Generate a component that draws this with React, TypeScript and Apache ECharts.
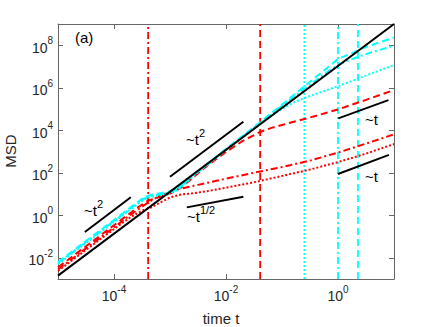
import { useEffect, useRef } from "react";
import * as echarts from "echarts";

// All values are log10 exponents: t = 10^x, MSD = 10^y
const X_MIN = -5;
const X_MAX = 1;
const Y_MIN = -3;
const Y_MAX = 9;
const xTickExps = [-4, -2, 0];
const yTickExps = [-2, 0, 2, 4, 6, 8];

// cyan curves
const cyanDashedT = [-5, -4.5, -4, -3.7, -3.5, -3.4, -3.3, -3.15, -3.0, -2.85, -2.7, -2.6, -2.3, -2, -1.5, -1, -0.5, 0, 0.5, 1];
const cyanDashedY = [-2.2, -1.21, -0.22, 0.38, 0.77, 0.91, 0.98, 1.05, 1.13, 1.3, 1.64, 1.9, 2.47, 3.12, 4.15, 5.2, 6.28, 7.35, 7.92, 8.37];
const cyanDashDotT = [-5, -4.5, -4, -3.7, -3.5, -3.4, -3.3, -3.15, -3.0, -2.85, -2.7, -2.6, -2.3, -2, -1.5, -1, -0.5, -0.2, 0, 0.3, 0.6, 1];
const cyanDashDotY = [-2.25, -1.26, -0.27, 0.33, 0.72, 0.86, 0.93, 1.0, 1.08, 1.25, 1.6, 1.86, 2.45, 3.1, 4.12, 5.15, 6.15, 6.72, 7.08, 7.4, 7.67, 7.98];
const cyanDottedT = [-5, -4.5, -4, -3.7, -3.5, -3.4, -3.3, -3.15, -3.0, -2.85, -2.7, -2.6, -2.3, -2, -1.5, -1.2, -1, -0.8, -0.6, -0.3, 0, 0.5, 1];
const cyanDottedY = [-2.3, -1.31, -0.32, 0.28, 0.67, 0.81, 0.88, 0.95, 1.03, 1.2, 1.56, 1.82, 2.43, 3.07, 4.08, 4.66, 5.0, 5.3, 5.52, 5.8, 6.07, 6.57, 7.07];

// red curves
const redDashedT = [-5, -4.5, -4, -3.6, -3.4, -3.2, -3.0, -2.8, -2.6, -2.35, -2.0, -1.7, -1.39, -1.2, -1.0, -0.5, 0, 0.5, 1];
const redDashedY = [-2.45, -1.46, -0.47, 0.32, 0.68, 0.85, 1.02, 1.3, 1.75, 2.3, 2.98, 3.5, 3.92, 4.1, 4.25, 4.6, 4.98, 5.43, 5.89];
const redDashDotT = [-5, -4.5, -4, -3.7, -3.5, -3.39, -3.25, -3.1, -2.94, -2.5, -2, -1.5, -1, -0.5, 0, 0.5, 1];
const redDashDotY = [-2.55, -1.56, -0.57, 0.03, 0.4, 0.6, 0.82, 1.0, 1.18, 1.43, 1.72, 2.0, 2.27, 2.57, 2.95, 3.37, 3.81];
const redDottedT = [-5, -4.5, -4, -3.7, -3.5, -3.35, -3.2, -3.0, -2.8, -2.6, -2.3, -2, -1.5, -1, -0.5, 0, 0.5, 1];
const redDottedY = [-2.62, -1.63, -0.65, -0.08, 0.22, 0.35, 0.56, 0.84, 0.98, 1.03, 1.15, 1.3, 1.55, 1.85, 2.15, 2.5, 2.9, 3.35];

// black ballistic reference line
const blackT = [-5, 1];
const blackY = [-2.84, 9.0];

// vertical time markers (log10 t)
const redDashDotMark = -3.39;
const redDashedMark = -1.39;
const cyanDottedMark = -0.6;
const cyanDashDotMark = 0.0;
const cyanDashedMark = 0.357;

// short slope guides
const guideT2LowT = [-4.52, -3.7];
const guideT2LowY = [-0.79, 0.845];
const guideT2MidT = [-3.0, -1.69];
const guideT2MidY = [1.81, 4.4];
const guideHalfT = [-2.7, -1.69];
const guideHalfY = [0.37, 0.87];
const guideTUpT = [0.005, 0.9];
const guideTUpY = [4.56, 5.42];
const guideTLowT = [0.0, 0.91];
const guideTLowY = [1.94, 2.84];

const FONT = "'Liberation Sans', Arial, Helvetica, sans-serif";
const RED = "#ff0000";
const CYAN = "#00ffff";
const DASH = [7, 4];
const DASHDOT = [7, 3, 2, 3];
const DOT = [2, 2];

function line(ts: number[], ys: number[], color: string, type: any, width = 2, z = 2) {
  return {
    type: "line",
    data: ts.map((t, i) => [t, ys[i]]),
    symbol: "none",
    showSymbol: false,
    silent: true,
    z,
    lineStyle: { color, width, type },
  };
}

function vline(x: number, color: string, type: any) {
  return line([x, x], [Y_MIN, Y_MAX], color, type, 1.8, 1);
}

const expRich = {
  b: { fontSize: 14, fontFamily: FONT, color: "#262626", lineHeight: 19, verticalAlign: "bottom" },
  s: { fontSize: 10, fontFamily: FONT, color: "#262626", lineHeight: 11, verticalAlign: "top" },
};

const annRich = {
  a: { fontSize: 15, fontFamily: FONT, fill: "#000", color: "#000", lineHeight: 20, verticalAlign: "bottom" },
  s: { fontSize: 11, fontFamily: FONT, fill: "#000", color: "#000", lineHeight: 12, verticalAlign: "top" },
};

function annText(x: number, y: number, text: string) {
  return {
    type: "text",
    x,
    y,
    style: { text, rich: annRich, fill: "#000", fontFamily: FONT, fontSize: 15, verticalAlign: "middle", align: "left" },
  };
}

export default function App() {
  const ref = useRef<HTMLDivElement>(null);
  useEffect(() => {
    document.body.style.margin = "0";
    const chart = echarts.init(ref.current!, undefined, { renderer: "svg" });
    const axisColor = "#666";
    const makeX = (pos: "bottom" | "top", labels: boolean) => ({
      type: "value",
      min: X_MIN,
      max: X_MAX,
      position: pos,
      axisLine: { show: true, onZero: false, lineStyle: { color: axisColor, width: 1 } },
      axisTick: { show: true, inside: true, length: 5, customValues: xTickExps, lineStyle: { color: axisColor } },
      axisLabel: {
        show: labels,
        customValues: xTickExps,
        margin: 5,
        formatter: (v: number) => `{b|10}{s|${v}}`,
        rich: expRich,
      },
      splitLine: { show: false },
    });
    const makeY = (pos: "left" | "right", labels: boolean) => ({
      type: "value",
      min: Y_MIN,
      max: Y_MAX,
      position: pos,
      axisLine: { show: true, onZero: false, lineStyle: { color: axisColor, width: 1 } },
      axisTick: { show: true, inside: true, length: 5, customValues: yTickExps, lineStyle: { color: axisColor } },
      axisLabel: {
        show: labels,
        customValues: yTickExps,
        margin: 5,
        formatter: (v: number) => `{b|10}{s|${v}}`,
        rich: expRich,
      },
      splitLine: { show: false },
    });

    chart.setOption({
      animation: false,
      backgroundColor: "#fff",
      grid: { left: 58, top: 24, width: 336, height: 255 },
      xAxis: [makeX("bottom", true), makeX("top", false)],
      yAxis: [makeY("left", true), makeY("right", false)],
      series: [
        vline(redDashDotMark, RED, DASHDOT),
        vline(redDashedMark, RED, DASH),
        vline(cyanDottedMark, CYAN, DOT),
        vline(cyanDashDotMark, CYAN, DASHDOT),
        vline(cyanDashedMark, CYAN, DASH),
        line(redDottedT, redDottedY, RED, DOT),
        line(redDashDotT, redDashDotY, RED, DASHDOT),
        line(redDashedT, redDashedY, RED, DASH),
        line(cyanDottedT, cyanDottedY, CYAN, DOT),
        line(cyanDashDotT, cyanDashDotY, CYAN, DASHDOT),
        line(cyanDashedT, cyanDashedY, CYAN, DASH),
        line(blackT, blackY, "#000", "solid", 2, 3),
        line(guideT2LowT, guideT2LowY, "#000", "solid", 2, 3),
        line(guideT2MidT, guideT2MidY, "#000", "solid", 2, 3),
        line(guideHalfT, guideHalfY, "#000", "solid", 2, 3),
        line(guideTUpT, guideTUpY, "#000", "solid", 2, 3),
        line(guideTLowT, guideTLowY, "#000", "solid", 2, 3),
      ],
      graphic: [
        { type: "text", x: 75, y: 37, style: { text: "(a)", fill: "#000", fontFamily: FONT, fontSize: 15, verticalAlign: "middle" } },
        annText(84, 208, "{a|~t}{s|2}"),
        annText(186, 137, "{a|~t}{s|2}"),
        annText(187, 214, "{a|~t}{s|1/2}"),
        annText(365, 117, "{a|~t}"),
        annText(365, 174, "{a|~t}"),
        { type: "text", x: 221, y: 318, style: { text: "time t", fill: "#262626", fontFamily: FONT, fontSize: 15, align: "center", verticalAlign: "middle" } },
        { type: "text", x: 10, y: 151, rotation: Math.PI / 2, style: { text: "MSD", fill: "#262626", fontFamily: FONT, fontSize: 15, align: "center", verticalAlign: "middle" } },
      ],
    });
    return () => chart.dispose();
  }, []);
  return <div ref={ref} style={{ width: 436, height: 327 }} />;
}
